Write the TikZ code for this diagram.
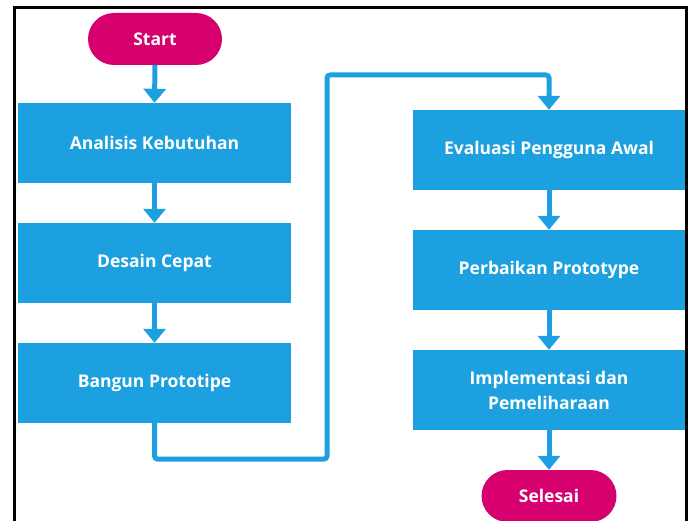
\documentclass[tikz,border=0pt]{standalone}
\usepackage{fontspec}
\setmainfont{Open Sans}
\usetikzlibrary{arrows.meta}
\definecolor{flowblue}{RGB}{29,160,223}
\definecolor{flowpink}{RGB}{214,0,111}
\tikzset{
  stepbox/.style={rectangle, fill=flowblue, draw=none, minimum width=273pt, minimum height=80pt,
    text=white, font=\fontsize{17.5}{25}\selectfont\bfseries, align=center, inner sep=0pt},
  terminal/.style={rectangle, rounded corners=26pt, fill=flowpink, draw=none, minimum width=134pt,
    minimum height=52pt, text=white, font=\fontsize{17.5}{25}\selectfont\bfseries, inner sep=0pt},
  flow/.style={draw=flowblue, line width=5pt, -{Triangle[width=22pt,length=14pt]}},
  link/.style={draw=flowblue, line width=5pt, rounded corners=3pt, -{Triangle[width=22pt,length=14pt]}}
}
\begin{document}
\begin{tikzpicture}[x=1pt, y=-1pt]
\useasboundingbox (0,0) rectangle (693,521);
% outer frame, open at the bottom
\draw[line width=3pt] (14.5,521) -- (14.5,8) -- (686.5,8) -- (686.5,521);

% left column
\node[terminal] (start) at (155,39) {Start};
\node[stepbox] (kebutuhan) at (154.5,143) {Analisis Kebutuhan};
\node[stepbox] (desain) at (154.5,263) {Desain Cepat};
\node[stepbox] (bangun) at (154.5,383) {Bangun Prototipe};

% right column
\node[stepbox, minimum width=272pt] (evaluasi) at (549,150) {Evaluasi Pengguna Awal};
\node[stepbox, minimum width=272pt] (perbaikan) at (549,270) {Perbaikan Prototype};
\node[stepbox, minimum width=272pt] (implementasi) at (549,390) {Implementasi dan\\Pemeliharaan};
\node[terminal, minimum width=135pt] (selesai) at (549,496) {Selesai};

% connectors
\draw[flow] (start.south) -- (kebutuhan.north);
\draw[flow] (kebutuhan.south) -- (desain.north);
\draw[flow] (desain.south) -- (bangun.north);
\coordinate (lowbend) at (bangun.south |- 0,459);
\coordinate (lowright) at (327,459);
\coordinate (highleft) at (327,75);
\coordinate (highright) at (evaluasi.north |- 0,75);
\draw[link] (bangun.south) -- (lowbend) -- (lowright) -- (highleft) -- (highright) -- (evaluasi.north);
\draw[flow] (evaluasi.south) -- (perbaikan.north);
\draw[flow] (perbaikan.south) -- (implementasi.north);
\draw[flow] (implementasi.south) -- (selesai.north);
\end{tikzpicture}
\end{document}
